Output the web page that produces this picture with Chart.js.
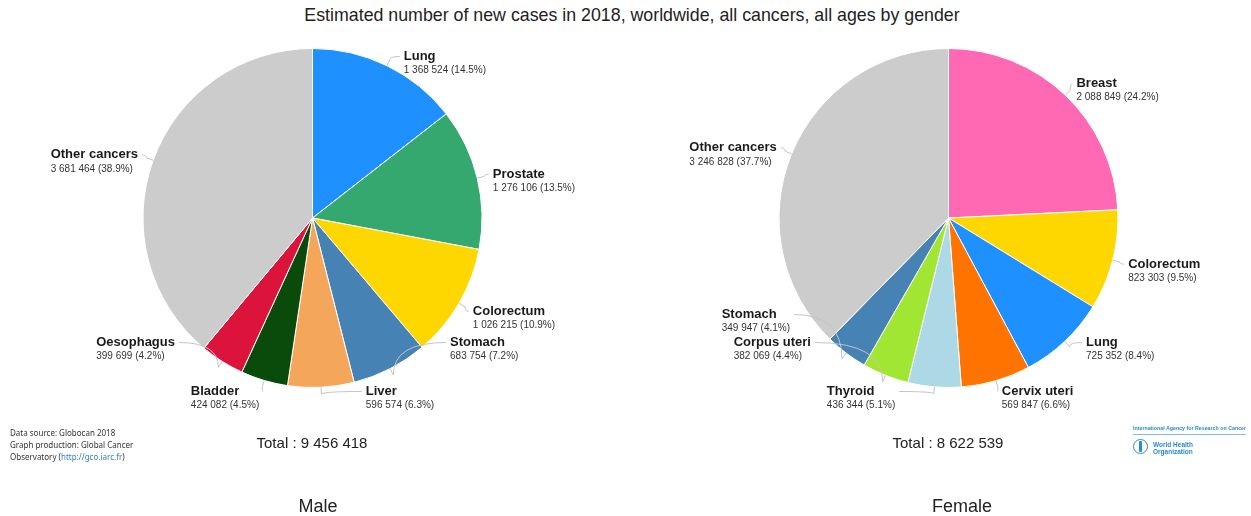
<!DOCTYPE html>
<html><head><meta charset="utf-8">
<script src="https://cdn.jsdelivr.net/npm/chart.js@4.4.1/dist/chart.umd.min.js"></script>
<style>
html,body{margin:0;padding:0;background:#fff}
body{width:1251px;height:516px;position:relative;overflow:hidden;font-family:"Liberation Sans",Arial,sans-serif;color:#222}
.abs{position:absolute;white-space:nowrap}
#title{top:5px;left:0;width:1264px;text-align:center;font-size:17.8px;line-height:20px;color:#222}
.total{top:434px;width:300px;text-align:center;font-size:15px;line-height:18px;color:#222}
.gender{top:496px;width:300px;text-align:center;font-size:18px;line-height:20px;color:#222}
#src{left:10px;top:427px;font-family:"Noto Sans","DejaVu Sans",sans-serif;font-size:8px;line-height:12px;color:#333}
#src a{color:#3a7fc4;text-decoration:none}
#iarc{left:1133px;top:424px;font-family:"Liberation Sans",Arial,sans-serif;font-weight:bold;font-size:6px;line-height:8px;color:#2a8ad4;border-bottom:1px solid #7fb8e6;padding-bottom:2px;transform:scaleX(0.88);transform-origin:0 0}
#who{left:1153px;top:441px;font-family:"Liberation Sans",Arial,sans-serif;font-weight:bold;font-size:6.5px;line-height:7px;color:#2a8ad4}
#emb{left:1133px;top:439px;width:15px;height:15px;border-radius:50%;border:1.5px solid #2a8ad4;box-sizing:border-box}
#emb2{left:1139px;top:441px;width:3px;height:11px;background:#2a8ad4;border-radius:1px}
canvas{position:absolute;top:0}
</style></head>
<body>
<div id="title" class="abs">Estimated number of new cases in 2018, worldwide, all cancers, all ages by gender</div>
<div style="position:absolute;left:0;top:0;width:625px;height:516px"><canvas id="male"></canvas></div>
<div style="position:absolute;left:626px;top:0;width:625px;height:516px"><canvas id="female"></canvas></div>
<div id="totM" class="abs total" style="left:162px"></div>
<div id="totF" class="abs total" style="left:798px"></div>
<div class="abs gender" style="left:168px">Male</div>
<div class="abs gender" style="left:812px">Female</div>
<div id="src" class="abs">Data source: Globocan 2018<br>Graph production: Global Cancer<br>Observatory (<a>http://gco.iarc.fr</a>)</div>
<div id="iarc" class="abs">International Agency for Research on Cancer</div>
<div id="emb" class="abs"></div>
<div id="emb2" class="abs"></div>
<div id="who" class="abs">World Health<br>Organization</div>
<script>
// ---- data ----
const maleLabels = ['Lung','Prostate','Colorectum','Stomach','Liver','Bladder','Oesophagus','Other cancers'];
const maleValues = [1368524,1276106,1026215,683754,596574,424082,399699,3681464];
const femaleLabels = ['Breast','Colorectum','Lung','Cervix uteri','Thyroid','Corpus uteri','Stomach','Other cancers'];
const femaleValues = [2088849,823303,725352,569847,436344,382069,349947,3246828];

// ---- styles ----
const cancerColors = {
  'Lung':'#1e90ff','Prostate':'#35a86f','Colorectum':'#ffd700','Stomach':'#4682b4',
  'Liver':'#f4a75a','Bladder':'#0a4a0a','Oesophagus':'#dc143c','Other cancers':'#cccccc',
  'Breast':'#ff69b4','Cervix uteri':'#ff7400','Thyroid':'#add8e6','Corpus uteri':'#a0e632'
};

function fmt(n){return String(n).replace(/\B(?=(\d{3})+(?!\d))/g,' ');}
const sum = a => a.reduce((s,v)=>s+v,0);
document.getElementById('totM').textContent = 'Total : ' + fmt(sum(maleValues));
document.getElementById('totF').textContent = 'Total : ' + fmt(sum(femaleValues));

const NAME_FONT = 'bold 13px "Liberation Sans", Arial, sans-serif';
const VAL_FONT = '10px "Liberation Sans", Arial, sans-serif';

const labelPlugin = {
  id:'pieLabels',
  afterDraw(chart){
    const ctx = chart.ctx;
    const arcs = chart.getDatasetMeta(0).data;
    const vals = chart.data.datasets[0].data;
    const labels = chart.data.labels;
    const total = sum(vals);
    const cx = arcs[0].x, cy = arcs[0].y, r = arcs[0].outerRadius;
    const R = r + 16;
    const items = arcs.map((a,i)=>{
      const mid = (a.startAngle + a.endAngle)/2;
      return {i, mid, right: Math.cos(mid) >= 0, y: cy + Math.sin(mid)*R};
    });
    const maxY = cy + r + 4, minY = cy - r + 8;
    [true,false].forEach(side=>{
      const list = items.filter(it=>it.right===side).sort((a,b)=>b.y-a.y);
      let prev = null;
      list.forEach(it=>{
        let y = Math.max(Math.min(it.y, maxY), minY);
        it.clamped = y >= maxY - 0.5;
        if(prev){ y = Math.min(y, prev.y - (prev.clamped ? 49 : 28)); it.clamped = false; }
        it.y = y; prev = it;
      });
    });
    ctx.save();
    items.forEach(it=>{
      const dy = it.y - cy;
      const RR = it.clamped ? R - 4 : R;
      const dx = Math.sqrt(Math.max(RR*RR - dy*dy, 0));
      const sgn = it.right ? 1 : -1;
      const x = cx + sgn*dx;
      const name = labels[it.i];
      const valText = fmt(vals[it.i]) + ' (' + (vals[it.i]/total*100).toFixed(1) + '%)';
      ctx.font = NAME_FONT; const wN = ctx.measureText(name).width;
      ctx.font = VAL_FONT; const wV = ctx.measureText(valText).width;
      const bw = Math.max(wN, wV);
      const left = it.right ? x : x - bw;
      // connector
      const ex = cx + Math.cos(it.mid)*r, ey = cy + Math.sin(it.mid)*r;
      const mx = cx + Math.cos(it.mid)*(r+7), my = cy + Math.sin(it.mid)*(r+7);
      const ax = x - sgn*4, ay = it.y;
      ctx.beginPath();
      ctx.strokeStyle = '#c4c4c4';
      ctx.lineWidth = 1;
      ctx.moveTo(ex, ey);
      ctx.lineTo(mx, my);
      ctx.quadraticCurveTo(mx, ay, ax, ay);
      ctx.stroke();
      // texts
      ctx.textAlign = 'left';
      ctx.textBaseline = 'middle';
      ctx.fillStyle = '#1a1a1a';
      ctx.font = NAME_FONT;
      ctx.fillText(name, left, it.y);
      ctx.fillStyle = '#333';
      ctx.font = VAL_FONT;
      ctx.fillText(valText, left, it.y + 14);
    });
    ctx.restore();
  }
};

function makePie(id, labels, values, padLeft){
  new Chart(document.getElementById(id), {
    type:'pie',
    data:{labels, datasets:[{data:values, backgroundColor:labels.map(l=>cancerColors[l]), borderColor:'#ffffff', borderWidth:1}]},
    options:{
      responsive:true, maintainAspectRatio:false, animation:false, devicePixelRatio:1,
      layout:{padding:{top:48, bottom:128, left:padLeft, right:0}},
      plugins:{legend:{display:false}, tooltip:{enabled:false}, title:{display:false}}
    },
    plugins:[labelPlugin]
  });
}
makePie('male', maleLabels, maleValues, 0);
makePie('female', femaleLabels, femaleValues, 20);
</script>
</body></html>
